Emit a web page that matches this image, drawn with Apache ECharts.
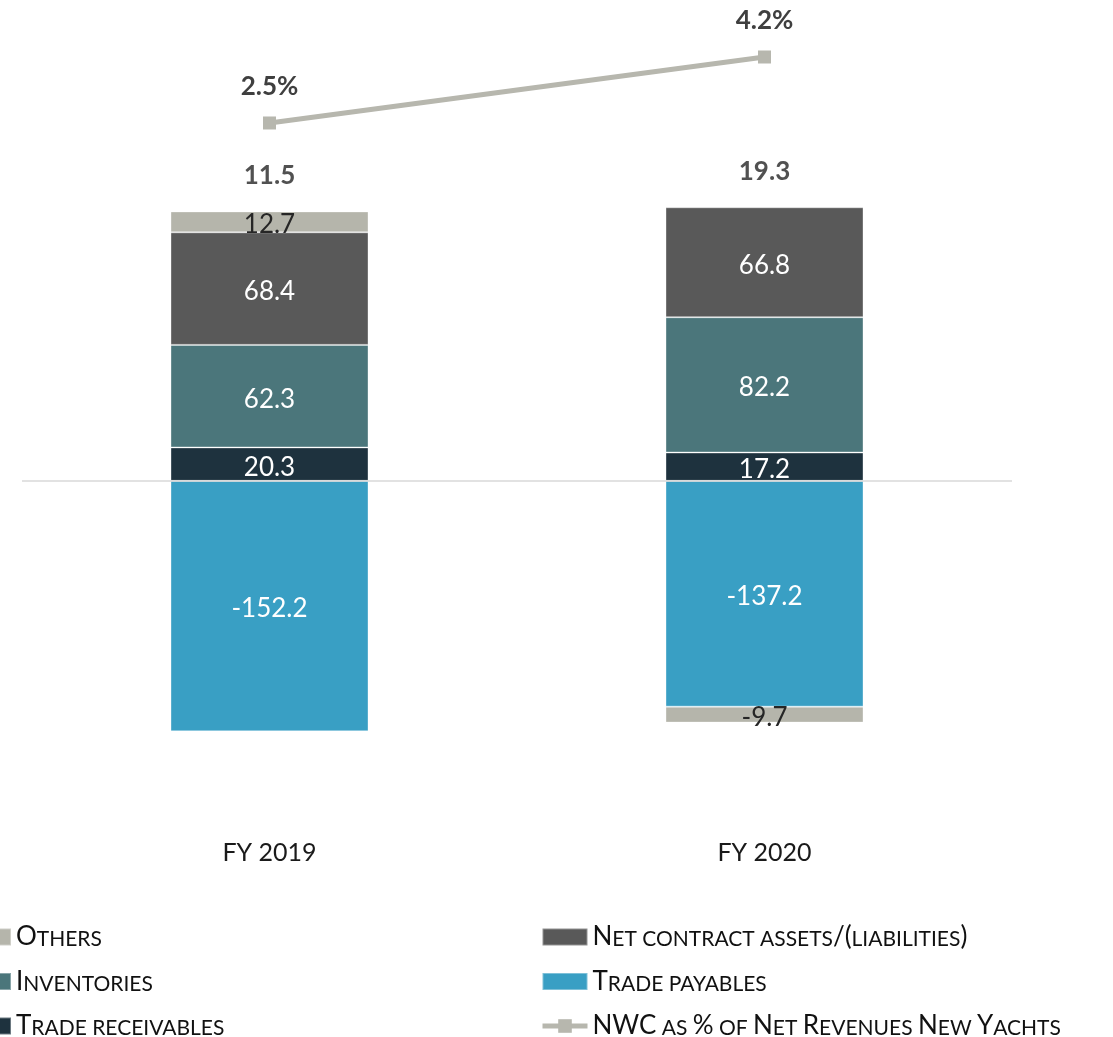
<!DOCTYPE html>
<html>
<head>
<meta charset="utf-8">
<title>NWC</title>
<script src="https://cdn.jsdelivr.net/npm/echarts@6/dist/echarts.min.js"></script>
<style>
  html, body { margin: 0; padding: 0; background: #fff; }
  #chart { width: 1113px; height: 1037px; }
</style>
</head>
<body>
<div id="chart"></div>
<script>
const categories = ['FY 2019', 'FY 2020']
const tradeReceivables = [20.3, 17.2]
const inventories = [62.3, 82.2]
const netContract = [68.4, 66.8]
const tradePayables = [-152.2, -137.2]
const others = [12.7, -9.7]
const nwcTotals = [11.5, 19.3]
const nwcPercent = [2.5, 4.2]

const FONT = 'Lato, "Open Sans", sans-serif'

// stack top of the positive parts, used to sit the total label above the bar
const positiveTop = categories.map((_, i) =>
  [tradeReceivables, inventories, netContract, tradePayables, others]
    .reduce((s, arr) => s + Math.max(arr[i], 0), 0)
)

// small caps: capitals big, lower case letters as small capitals
const smallCaps = (name) => {
  let out = ''
  let run = ''
  let small = null
  const flush = () => {
    if (run) out += `{${small ? 's' : 'b'}|${run}}`
    run = ''
  }
  for (const ch of name) {
    const isSmall = ch !== ch.toUpperCase() || ch === ' '
    if (small !== null && isSmall !== small) flush()
    small = isSmall
    run += isSmall ? ch.toUpperCase() : ch
  }
  flush()
  return out
}

const legendText = {
  fontFamily: FONT,
  color: '#111',
  rich: {
    b: { fontSize: 26, fontFamily: FONT, color: '#111', verticalAlign: 'bottom', lineHeight: 26 },
    s: { fontSize: 21, fontFamily: FONT, color: '#111', verticalAlign: 'bottom', lineHeight: 26 }
  }
}

const legendBase = {
  orient: 'vertical',
  top: 924,
  height: 140,
  padding: 0,
  itemWidth: 45,
  itemHeight: 17,
  itemGap: 18.5,
  selectedMode: false,
  formatter: smallCaps,
  textStyle: legendText
}

const barLabel = (color) => ({
  show: true,
  position: 'inside',
  offset: [0, 3],
  fontFamily: FONT,
  fontSize: 26,
  color: color,
  formatter: (p) => p.value.toFixed(1)
})

const barSeries = (name, data, color, labelColor) => ({
  name,
  type: 'bar',
  stack: 'nwc',
  barWidth: '40%',
  data,
  itemStyle: { color, borderColor: 'rgba(255,255,255,0.35)', borderWidth: 1 },
  label: barLabel(labelColor)
})

const chart = echarts.init(document.getElementById('chart'))
chart.setOption({
  animation: false,
  grid: { left: 22, right: 101, top: 20, bottom: 227 },
  legend: [
    {
      ...legendBase,
      left: -35,
      icon: 'rect',
      data: ['Others', 'Inventories', 'Trade receivables']
    },
    {
      ...legendBase,
      left: 540,
      data: [
        { name: 'Net contract assets/(liabilities)', icon: 'rect' },
        { name: 'Trade payables', icon: 'rect' },
        { name: 'NWC as % of Net Revenues New Yachts', lineStyle: { width: 5 } }
      ]
    }
  ],
  xAxis: {
    type: 'category',
    data: categories,
    axisLine: { show: false },
    axisTick: { show: false },
    axisLabel: { margin: 30, fontFamily: FONT, fontSize: 25, color: '#1a1a1a' }
  },
  yAxis: [
    { type: 'value', min: -200, max: 280, show: false, splitLine: { show: false } },
    { type: 'value', min: -15.197, max: 5.153, show: false, splitLine: { show: false } }
  ],
  series: [
    {
      ...barSeries('Trade receivables', tradeReceivables, '#1e323e', '#fff'),
      markLine: {
        silent: true,
        symbol: 'none',
        label: { show: false },
        lineStyle: { color: '#d9d9d9', width: 1.5, type: 'solid' },
        data: [{ yAxis: 0 }]
      }
    },
    barSeries('Inventories', inventories, '#4b767b', '#fff'),
    barSeries('Net contract assets/(liabilities)', netContract, '#595959', '#fff'),
    barSeries('Trade payables', tradePayables, '#399fc4', '#fff'),
    barSeries('Others', others, '#b5b5ab', '#262626'),
    {
      name: 'NWC total',
      type: 'scatter',
      symbolSize: 0,
      data: positiveTop,
      label: {
        show: true,
        position: 'top',
        distance: 23,
        fontFamily: FONT,
        fontSize: 26,
        fontWeight: 'bold',
        color: '#262626',
        formatter: (p) => nwcTotals[p.dataIndex].toFixed(1)
      }
    },
    {
      name: 'NWC as % of Net Revenues New Yachts',
      type: 'line',
      yAxisIndex: 1,
      data: nwcPercent,
      symbol: 'rect',
      symbolSize: 13,
      lineStyle: { color: '#b7b7ae', width: 5 },
      itemStyle: { color: '#b7b7ae' },
      label: {
        show: true,
        position: 'top',
        distance: 17,
        fontFamily: FONT,
        fontSize: 26,
        fontWeight: 'bold',
        color: '#3f3f3f',
        formatter: (p) => p.value.toFixed(1) + '%'
      }
    }
  ]
})
</script>
</body>
</html>
